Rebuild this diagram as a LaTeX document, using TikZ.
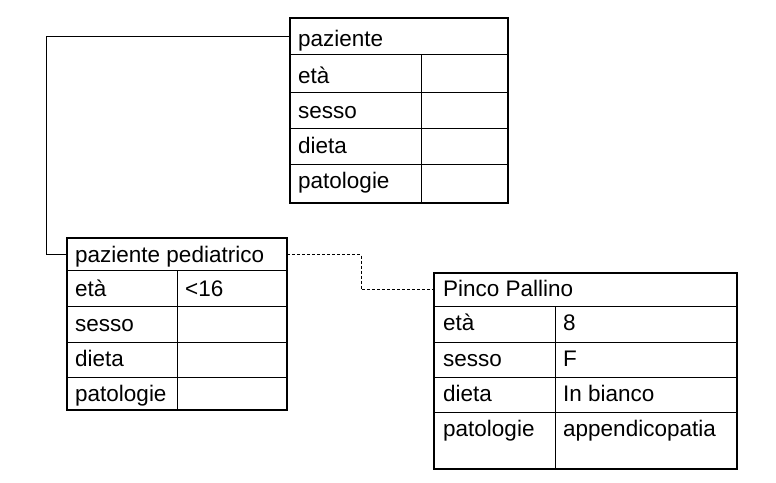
\documentclass[tikz,border=0pt]{standalone}
\usepackage{fontspec}
\setmainfont{Liberation Sans}
\begin{document}
\begin{tikzpicture}[x=1pt,y=-1pt,
  every node/.style={font=\fontsize{22.5}{27}\selectfont},
  hdr/.style={draw=none,anchor=north west,inner sep=0pt},
  txt/.style={anchor=base west,inner sep=0pt},
  inner/.style={line width=1pt},
  frame/.style={line width=2.2pt},
  conn/.style={line width=1pt},
  dconn/.style={line width=1pt,dash pattern=on 3pt off 2pt}]
\useasboundingbox (0,0) rectangle (776,482);
\fill[white] (0,0) rectangle (776,482);

% ---------- paziente ----------
\node[hdr,minimum width=218pt,minimum height=36pt] (pazH) at (290,18) {};
\draw[inner] (290,54) -- (508,54) (290,92) -- (508,92) (290,128) -- (508,128) (290,164.5) -- (508,164.5);
\draw[inner] (421,54) -- (421,203);
\draw[frame] (290,18) rectangle (508,203);
\node[txt] (t1) at (298,46.5) {paziente};
\node[txt] (t2) at (298,83) {età};
\node[txt] (t3) at (298,118) {sesso};
\node[txt] (t4) at (298,153.3) {dieta};
\node[txt] (t5) at (298,188.5) {patologie};

% ---------- paziente pediatrico ----------
\node[hdr,minimum width=220pt,minimum height=32pt] (pedH) at (67,238) {};
\draw[inner] (67,270) -- (287,270) (67,306) -- (287,306) (67,342) -- (287,342) (67,377) -- (287,377);
\draw[inner] (177,270) -- (177,410);
\draw[frame] (67,238) rectangle (287,410);
\node[txt] (p1) at (75,262.5) {paziente pediatrico};
\node[txt] (p2) at (75,296.5) {età};
\node[txt] (p2v) at (185,296.5) {<16};
\node[txt] (p3) at (75,331.5) {sesso};
\node[txt] (p4) at (75,366.5) {dieta};
\node[txt] (p5) at (75,401.5) {patologie};

% ---------- Pinco Pallino ----------
\node[hdr,minimum width=303pt,minimum height=33pt] (pinH) at (434,273) {};
\draw[inner] (434,306) -- (737,306) (434,342) -- (737,342) (434,377) -- (737,377) (434,412) -- (737,412);
\draw[inner] (555,306) -- (555,469);
\draw[frame] (434,273) rectangle (737,469);
\node[txt] (q1) at (443,296.7) {Pinco Pallino};
\node[txt] (q2) at (443,330.5) {età};
\node[txt] (q2v) at (563,330.5) {8};
\node[txt] (q3) at (443,366.5) {sesso};
\node[txt] (q3v) at (563,366.5) {F};
\node[txt] (q4) at (443,401.5) {dieta};
\node[txt] (q4v) at (563,401.5) {In bianco};
\node[txt] (q5) at (443,436) {patologie};
\node[txt] (q5v) at (563,436) {appendicopatia};

% ---------- connectors ----------
\coordinate (gen) at (46,0);
\coordinate (mid) at (361,0);
\draw[conn] (pazH.west) -- (pazH.west -| gen) |- (pedH.west);
\draw[dconn] (pedH.east) -- (pedH.east -| mid) |- (pinH.west);
\end{tikzpicture}
\end{document}
